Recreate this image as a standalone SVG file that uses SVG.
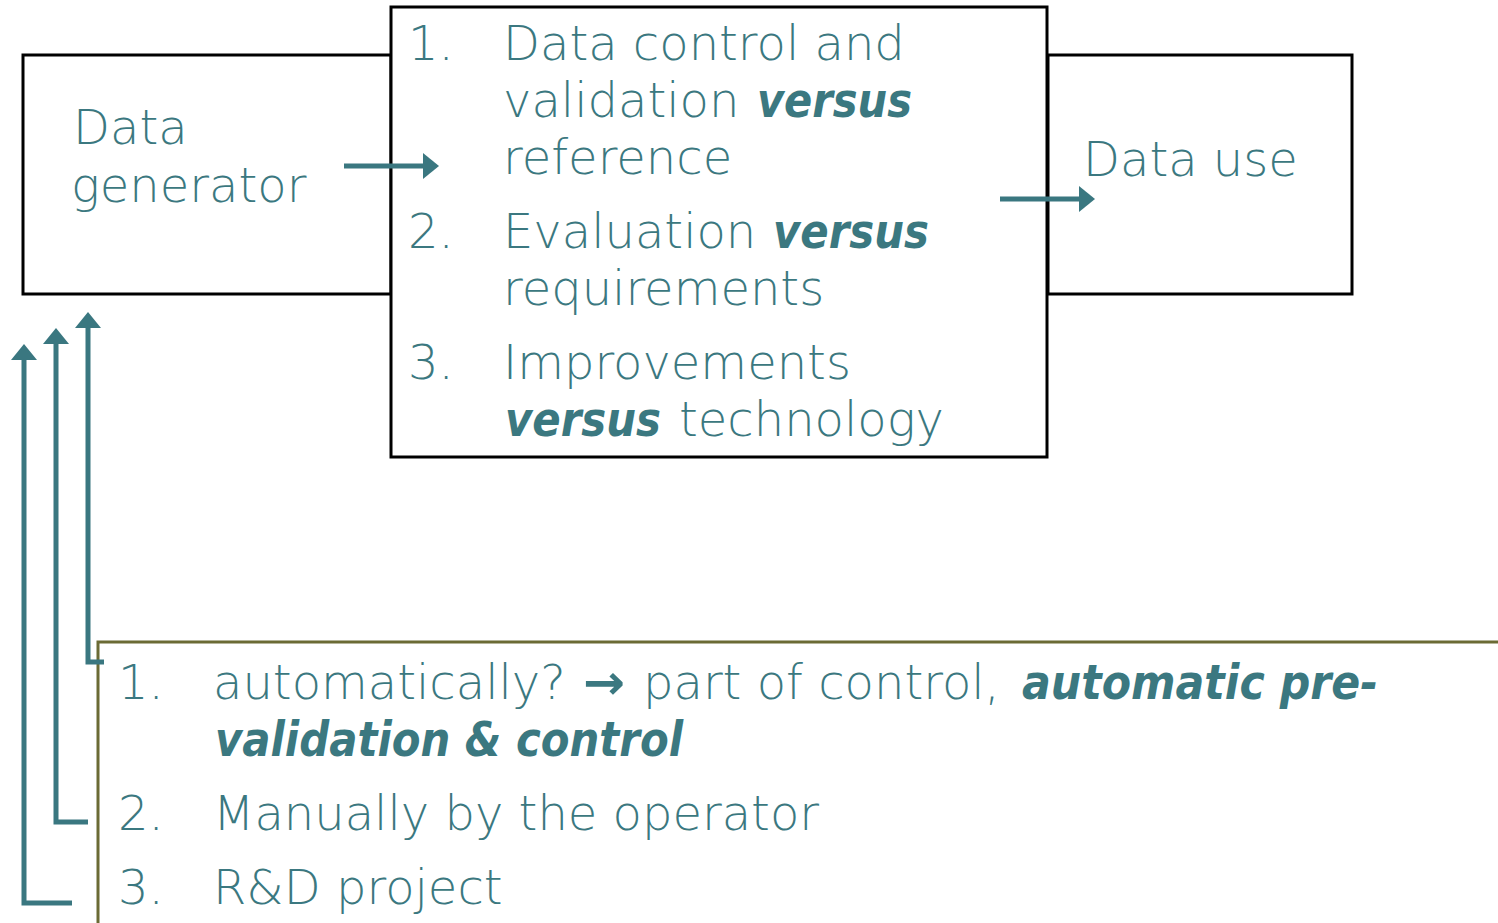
<svg xmlns="http://www.w3.org/2000/svg" width="1498" height="923" viewBox="0 0 1498 923">
<style>
.box{fill:#fff;stroke:#000;stroke-width:3}
.obox{fill:none;stroke:#6b6b35;stroke-width:3}
.t{font-family:"DejaVu Sans","Liberation Sans",sans-serif;font-weight:200;font-size:48px;fill:#3b7880}
.bi{font-family:"DejaVu Sans","Liberation Sans",sans-serif;font-weight:bold;font-style:italic;font-size:48px;fill:#3b7880}
.c{fill:none;stroke:#3a7780;stroke-width:5}
</style>
<defs>
<marker id="ah" markerUnits="userSpaceOnUse" markerWidth="16" markerHeight="26" viewBox="0 0 16 26" refX="1" refY="13" orient="auto">
<path d="M0,0 L16,13 L0,26 z" fill="#3a7780"/>
</marker>
</defs>
<g id="generator">
<rect class="box" x="23" y="55" width="368" height="239"/>
<text class="t" x="73" y="144">Data</text>
<text class="t" x="71" y="202">generator</text>
</g>
<g id="datause">
<rect class="box" x="1048" y="55" width="304" height="239"/>
<text class="t" x="1083" y="176">Data use</text>
</g>
<g id="control">
<rect class="box" x="391" y="7" width="656" height="450"/>
<text class="t" x="408" y="60">1.</text>
<text class="t" x="503" y="60">Data control and</text>
<text class="t" x="503" y="117">validation</text>
<text class="bi" x="757" y="117" textLength="155" lengthAdjust="spacingAndGlyphs">versus</text>
<text class="t" x="503" y="174">reference</text>
<text class="t" x="408" y="248">2.</text>
<text class="t" x="503" y="248">Evaluation</text>
<text class="bi" x="773" y="248" textLength="156" lengthAdjust="spacingAndGlyphs">versus</text>
<text class="t" x="503" y="305">requirements</text>
<text class="t" x="408" y="379">3.</text>
<text class="t" x="503" y="379">Improvements</text>
<text class="bi" x="505" y="436" textLength="156" lengthAdjust="spacingAndGlyphs">versus</text>
<text class="t" x="679" y="436">technology</text>
</g>
<g id="feedback">
<rect class="obox" x="98" y="642" width="1450" height="400"/>
<text class="t" x="118" y="699">1.</text>
<text class="t" x="213" y="699">automatically?</text>
<text class="bi" x="583" y="699" textLength="42" lengthAdjust="spacingAndGlyphs">→</text>
<text class="t" x="643" y="699">part of control,</text>
<text class="bi" x="1022" y="699" textLength="356" lengthAdjust="spacingAndGlyphs">automatic pre-</text>
<text class="bi" x="215" y="756" textLength="468" lengthAdjust="spacingAndGlyphs">validation &amp; control</text>
<text class="t" x="118" y="830">2.</text>
<text class="t" x="213" y="830">Manually by the operator</text>
<text class="t" x="118" y="904">3.</text>
<text class="t" x="213" y="904">R&amp;D project</text>
</g>
<g id="connectors">
<line class="c" x1="344" y1="166" x2="424" y2="166" marker-end="url(#ah)"/>
<line class="c" x1="1000" y1="199" x2="1080" y2="199" marker-end="url(#ah)"/>
<polyline class="c" points="104,662 88,662 88,327" marker-end="url(#ah)"/>
<polyline class="c" points="88,822 56,822 56,343" marker-end="url(#ah)"/>
<polyline class="c" points="72,903 24,903 24,359" marker-end="url(#ah)"/>
</g>
</svg>
